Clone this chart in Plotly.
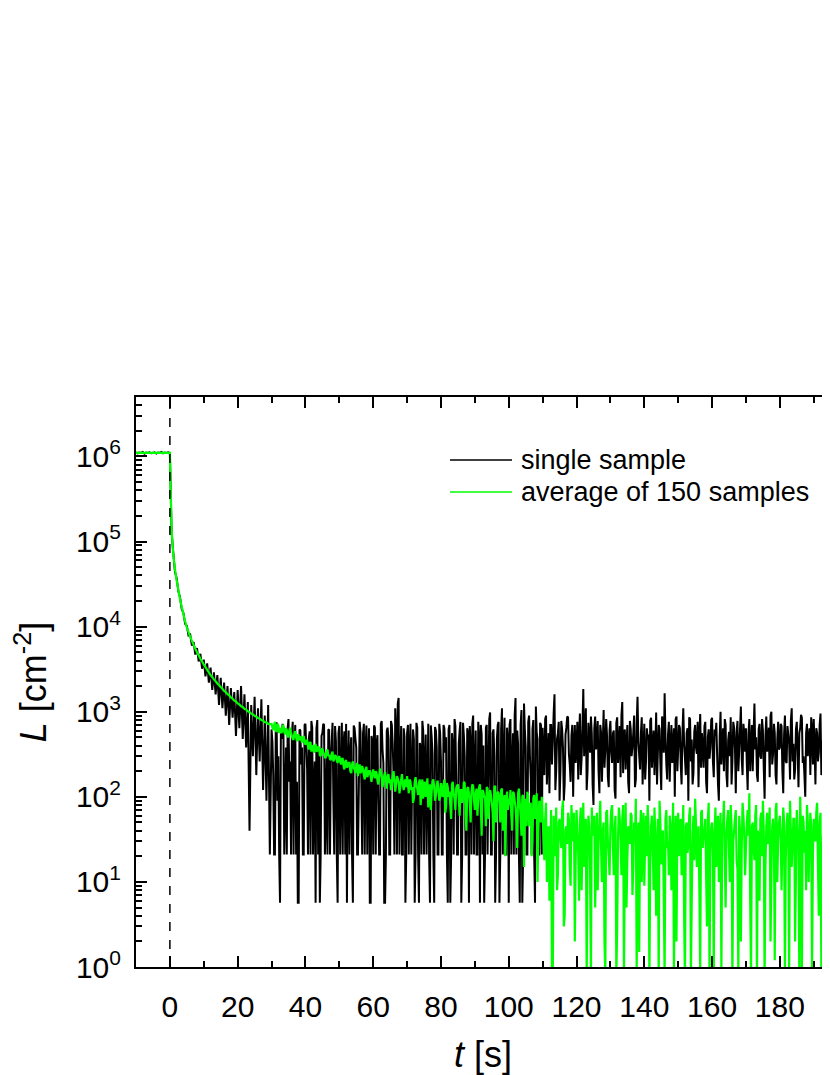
import numpy as np
import plotly.graph_objects as go

# ---------------- data ----------------
# early part: samples every 0.5 s from t = -10 s to 29.5 s
# late part: samples every 0.25 s from t = 30 s (values "a" at whole/half seconds, "b" in between)

# single sample, t = -10 ... -0.5
black_pre = [1.12e6, 1.09e6, 1.11e6, 1.10e6, 1.13e6, 1.08e6, 1.11e6, 1.10e6, 1.12e6, 1.09e6,
             1.10e6, 1.12e6, 1.08e6, 1.11e6, 1.10e6, 1.13e6, 1.09e6, 1.11e6, 1.10e6, 1.12e6]
# single sample, t = 0 ... 29.5
black_decay = [1.1e6, 1.3e5, 7.4e4, 4.4e4, 3.7e4, 2.6e4, 2.2e4, 1.6e4, 1.45e4, 1.08e4,
               1.02e4, 7.9e3, 8.1e3, 6.0e3, 6.6e3, 4.7e3, 5.6e3, 3.9e3, 4.8e3, 3.2e3,
               4.1e3, 2.6e3, 3.7e3, 2.2e3, 3.3e3, 1.8e3, 2.9e3, 1.6e3, 2.7e3, 1.2e3,
               2.5e3, 1.1e3, 2.2e3, 900, 2.0e3, 700, 1.9e3, 850, 1.7e3, 520,
               1.8e3, 640, 2.0e3, 480, 1.6e3, 380, 1.3e3, 40, 1.2e3, 300,
               1.5e3, 180, 1.1e3, 260, 1.4e3, 120, 900, 90, 1.2e3, 21]
# single sample, t = 30 ... 109.5 (a)
black_mid = [620, 180, 21, 750, 300, 5.7, 480, 650, 90, 21, 820, 260, 540, 21, 700, 150, 5.7, 600, 380, 21,
             720, 210, 480, 21, 650, 120, 5.7, 800, 340, 21, 560, 700, 60, 21, 620, 280, 740, 21, 450, 5.7,
             680, 160, 21, 590, 720, 230, 21, 500, 5.7, 640, 380, 21, 760, 140, 560, 21, 690, 300, 5.7, 520,
             21, 650, 420, 90, 21, 780, 250, 5.7, 600, 480, 21, 700, 180, 1100, 21, 1450, 300, 21, 640, 5.7,
             560, 21, 720, 200, 480, 21, 650, 5.7, 380, 780, 21, 540, 120, 21, 690, 320, 5.7, 600, 21, 720,
             260, 21, 640, 500, 5.7, 700, 21, 380, 820, 150, 21, 600, 5.7, 740, 300, 21, 560, 680, 21, 900,
             220, 21, 760, 5.7, 540, 400, 21, 700, 160, 980, 21, 620, 5.7, 480, 760, 21, 1100, 300, 21, 650,
             5.7, 820, 240, 21, 1450, 600, 21, 700, 5.7, 1250, 380, 21, 900, 160, 620, 21, 1150, 480, 21, 700]
# single sample, t = 30.25 ... 109.75 (b)
black_mid_b = [450, 21, 680, 90, 21, 560, 720, 21, 380, 640, 150, 21, 760, 430, 21, 5.7, 620, 240, 21, 700,
               380, 21, 590, 780, 21, 260, 640, 21, 5.7, 520, 720, 21, 330, 610, 21, 460, 90, 680, 21, 560,
               21, 740, 420, 21, 5.7, 600, 310, 21, 690, 480, 21, 120, 580, 21, 720, 360, 21, 640, 5.7, 450,
               690, 21, 530, 21, 720, 360, 5.7, 21, 650, 21, 780, 420, 21, 590, 1250, 21, 680, 21, 500, 21,
               700, 380, 21, 620, 5.7, 740, 21, 430, 21, 600, 260, 21, 720, 5.7, 510, 21, 660, 380, 21, 560,
               21, 700, 330, 21, 620, 5.7, 560, 21, 680, 21, 420, 760, 21, 530, 21, 640, 5.7, 410, 720, 21,
               600, 21, 480, 700, 21, 5.7, 650, 21, 820, 21, 560, 300, 21, 700, 5.7, 620, 21, 850, 21, 480,
               700, 21, 560, 900, 21, 420, 5.7, 1050, 21, 620, 21, 760, 300, 21, 800, 5.7, 560, 21, 740, 21]
# single sample, t = 110 ... 199 (a)
black_tail = [650, 180, 900, 320, 110, 700, 450, 1600, 200, 560, 90, 780, 380, 140, 650, 860, 240, 520, 100, 700,
              400, 160, 950, 280, 1850, 620, 120, 740, 330, 560, 80, 880, 460, 200, 700, 150, 1050, 360, 520, 130,
              780, 250, 600, 95, 860, 420, 170, 1300, 540, 210, 700, 110, 620, 380, 900, 160, 1500, 300, 560, 140,
              720, 260, 480, 90, 850, 400, 180, 980, 330, 620, 120, 760, 1650, 240, 540, 150, 700, 420, 100, 880,
              360, 640, 140, 1100, 280, 560, 90, 820, 470, 190, 700, 320, 130, 940, 560, 220, 760, 110, 620, 380,
              850, 170, 520, 300, 90, 1000, 440, 200, 700, 130, 580, 860, 260, 650, 110, 780, 350, 1150, 180, 560,
              640, 120, 820, 390, 200, 1250, 500, 150, 720, 280, 600, 95, 880, 430, 170, 1000, 320, 560, 140, 760,
              380, 680, 110, 900, 250, 540, 160, 1100, 420, 210, 760, 130, 640, 850, 300, 100, 720, 480, 180, 600,
              820, 140, 560, 330, 950, 210, 680, 100, 760, 420, 170, 880, 300, 540, 130, 700, 1650, 260, 620]
# single sample, t = 110.25 ... 199.25 (b)
black_tail_b = [300, 820, 140, 560, 700, 240, 950, 120, 480, 760, 200, 620, 90, 540, 880, 320, 150, 700, 420, 250,
                760, 520, 180, 680, 300, 1100, 200, 500, 880, 140, 640, 360, 780, 110, 560, 420, 220, 820, 170, 600,
                340, 560, 120, 740, 250, 680, 900, 190, 620, 400, 150, 780, 300, 560, 130, 720, 440, 210, 860, 320,
                160, 640, 540, 780, 220, 600, 350, 140, 700, 240, 880, 330, 520, 160, 760, 400, 250, 640, 820, 200,
                700, 240, 560, 420, 180, 640, 860, 260, 140, 580, 380, 760, 500, 220, 380, 680, 150, 500, 280, 800,
                260, 620, 740, 140, 520, 240, 640, 820, 180, 460, 300, 140, 760, 380, 580, 200, 620, 280, 720, 340,
                240, 560, 200, 700, 560, 360, 180, 620, 300, 820, 220, 520, 340, 650, 900, 240, 720, 180, 480, 360,
                720, 200, 540, 260, 680, 420, 780, 260, 160, 620, 340, 560, 920, 250, 180, 560, 300, 640, 860, 240,
                380, 640, 260, 700, 180, 520, 340, 780, 220, 600, 360, 240, 680, 160, 520, 1100, 420, 200, 780]

# average of 150 samples, t = -10 ... -0.5
green_pre = [1.10e6, 1.11e6, 1.10e6, 1.10e6, 1.11e6, 1.10e6, 1.10e6, 1.11e6, 1.10e6, 1.10e6,
             1.11e6, 1.10e6, 1.10e6, 1.11e6, 1.10e6, 1.10e6, 1.11e6, 1.10e6, 1.10e6, 1.10e6]
# average, t = 0 ... 29.5
green_decay = [1.1e6, 1.4e5, 7.0e4, 4.7e4, 3.5e4, 2.7e4, 2.1e4, 1.7e4, 1.4e4, 1.15e4,
               9.8e3, 8.6e3, 7.6e3, 6.8e3, 6.1e3, 5.5e3, 5.0e3, 4.6e3, 4.2e3, 3.9e3,
               3.6e3, 3.35e3, 3.1e3, 2.9e3, 2.7e3, 2.55e3, 2.4e3, 2.28e3, 2.15e3, 2.05e3,
               1.95e3, 1.86e3, 1.76e3, 1.70e3, 1.61e3, 1.56e3, 1.47e3, 1.43e3, 1.35e3, 1.32e3,
               1.25e3, 1.22e3, 1.16e3, 1.14e3, 1.08e3, 1.06e3, 1.01e3, 990, 950, 930,
               895, 875, 845, 830, 800, 785, 755, 750, 720, 715]
# average, t = 30 ... 109.5 (a)
green_mid = [720, 610, 760, 580, 690, 640, 560, 700, 540, 610, 500, 650, 520, 470, 590, 450, 530, 490, 430, 520,
             410, 470, 360, 440, 390, 330, 420, 350, 380, 300, 370, 320, 290, 360, 310, 270, 340, 280, 300, 250,
             300, 240, 280, 210, 270, 230, 250, 190, 260, 210, 230, 175, 240, 200, 210, 160, 225, 185, 200, 150,
             210, 165, 190, 140, 215, 170, 150, 195, 125, 185, 160, 140, 200, 115, 175, 150, 130, 185, 120, 160,
             175, 110, 150, 130, 95, 170, 125, 145, 80, 160, 135, 100, 165, 120, 70, 150, 130, 105, 155, 90,
             145, 100, 160, 75, 130, 115, 55, 150, 95, 125, 140, 60, 120, 100, 145, 40, 130, 85, 115, 135,
             70, 125, 95, 140, 35, 115, 100, 130, 55, 120, 85, 30, 135, 90, 110, 50, 125, 70, 20, 115,
             95, 120, 40, 110, 75, 25, 125, 60, 100, 15, 95, 115, 45, 85, 30, 105, 70, 10, 90, 50]
# average, t = 30.25 ... 109.75 (b)
green_mid_b = [650, 700, 600, 720, 560, 620, 680, 580, 640, 520, 600, 560, 480, 560, 500, 540, 460, 510, 480, 450,
               450, 390, 430, 340, 400, 370, 340, 390, 310, 360, 330, 290, 340, 300, 280, 320, 260, 310, 270, 290,
               260, 280, 230, 260, 220, 250, 200, 240, 220, 190, 250, 210, 190, 230, 180, 210, 170, 200, 175, 190,
               180, 200, 155, 175, 190, 130, 180, 160, 170, 145, 120, 175, 155, 140, 165, 110, 160, 140, 150, 130,
               140, 160, 120, 85, 150, 135, 105, 160, 120, 95, 150, 130, 75, 140, 115, 160, 90, 135, 120, 100,
               120, 135, 65, 145, 100, 80, 140, 110, 70, 135, 95, 120, 85, 150, 60, 125, 110, 50, 140, 90,
               110, 60, 130, 80, 120, 100, 45, 125, 90, 105, 65, 130, 50, 115, 85, 120, 40, 105, 90, 70,
               80, 60, 115, 90, 50, 110, 85, 35, 105, 70, 45, 100, 80, 20, 95, 55, 110, 40, 75, 100]
# average, t = 110 ... 199 (a)
green_tail = [60, 18, 85, 35, 6, 70, 0.8, 40, 75, 12, 55, 25, 90, 4, 45, 65, 15, 80, 30, 2,
              70, 22, 50, 8, 85, 35, 0.7, 60, 14, 75, 40, 5, 65, 28, 90, 10, 50, 0.8, 70, 20,
              45, 80, 12, 60, 3, 75, 30, 55, 0.8, 85, 18, 40, 65, 7, 50, 95, 22, 1.5, 70, 35,
              9, 60, 80, 0.7, 45, 25, 75, 4, 55, 90, 16, 40, 0.8, 70, 30, 60, 8, 85, 20, 2,
              65, 40, 12, 80, 0.7, 50, 28, 75, 6, 60, 95, 15, 45, 0.9, 70, 35, 55, 3, 85, 20,
              50, 0.8, 75, 30, 10, 65, 45, 90, 5, 55, 22, 80, 0.7, 40, 70, 14, 60, 2, 85, 35,
              25, 70, 110, 0.8, 50, 18, 80, 40, 6, 65, 90, 0.7, 45, 28, 75, 12, 55, 1.2, 85, 30,
              60, 8, 75, 0.8, 45, 35, 90, 15, 55, 2, 70, 25, 100, 0.7, 50, 40, 80, 10, 65, 0.9,
              55, 30, 85, 4, 65, 20, 95, 0.8, 45, 75, 14, 60, 0.7, 80, 35, 50, 6, 70, 25]
# average, t = 110.25 ... 199.25 (b)
green_tail_b = [30, 55, 10, 45, 25, 0.8, 60, 20, 8, 50, 35, 70, 3, 40, 28, 55, 9, 45, 65, 18,
                40, 6, 75, 30, 15, 55, 22, 45, 0.7, 35, 60, 18, 8, 50, 25, 40, 2, 65, 30, 12,
                70, 25, 40, 0.8, 35, 55, 12, 80, 20, 5, 45, 28, 60, 15, 30, 0.9, 50, 40, 10, 65,
                30, 20, 45, 15, 60, 8, 35, 22, 0.7, 50, 38, 6, 55, 25, 12, 45, 30, 0.8, 60, 40,
                20, 55, 30, 4, 45, 22, 60, 0.8, 35, 18, 50, 30, 8, 65, 25, 40, 12, 55, 0.7, 45,
                25, 40, 15, 60, 28, 0.9, 50, 20, 35, 70, 10, 45, 30, 55, 18, 0.8, 40, 25, 60, 12,
                50, 35, 6, 45, 25, 60, 0.7, 30, 55, 20, 40, 15, 65, 30, 2, 45, 35, 70, 10, 50,
                35, 25, 50, 18, 65, 0.8, 40, 28, 55, 12, 45, 0.7, 35, 60, 22, 8, 50, 30, 45, 20,
                40, 65, 15, 50, 0.8, 35, 25, 60, 10, 45, 30, 0.9, 55, 20, 40, 70, 12, 45, 30]

x_ticks = [0, 20, 40, 60, 80, 100, 120, 140, 160, 180]
y_tick_vals = [1, 10, 100, 1000, 10000, 100000, 1000000]
y_tick_text = ["10<sup>0</sup>", "10<sup>1</sup>", "10<sup>2</sup>", "10<sup>3</sup>",
               "10<sup>4</sup>", "10<sup>5</sup>", "10<sup>6</sup>"]
legend_labels = ["single sample", "average of 150 samples"]

# ---------------- build ----------------
def interleave(a, b):
    return [v for pair in zip(a, b) for v in pair]

black_early = black_pre + black_decay
green_early = green_pre + green_decay
black_late = interleave(black_mid + black_tail, black_mid_b + black_tail_b)
green_late = interleave(green_mid + green_tail, green_mid_b + green_tail_b)

t_early = -10.0 + 0.5 * np.arange(len(black_early))
t_late_b = 30.0 + 0.25 * np.arange(len(black_late))
t_late_g = 30.0 + 0.25 * np.arange(len(green_late))

t_black = np.concatenate([t_early, t_late_b])
t_green = np.concatenate([t_early, t_late_g])
black = black_early + black_late
green = green_early + green_late

FONT = "Arial, Liberation Sans, sans-serif"

fig = go.Figure()
fig.add_trace(go.Scatter(x=t_black, y=black, mode="lines",
                         line=dict(color="black", width=2.0, simplify=False),
                         name=legend_labels[0], showlegend=False))
fig.add_trace(go.Scatter(x=t_green, y=green, mode="lines",
                         line=dict(color="#00ff00", width=2.2, simplify=False),
                         name=legend_labels[1], showlegend=False))

# dashed line at t = 0
fig.add_shape(type="line", xref="x", yref="paper", x0=0, x1=0, y0=0, y1=1,
              line=dict(color="black", width=1.5, dash="dash"), layer="above")

# manual legend (positions in screen pixels converted to paper coords)
L, W = 136, 694
T, H = 397, 570
def px(xp):
    return (xp - L) / W
def py(yp):
    return (T + H - yp) / H

for lab, col, yy in [(legend_labels[0], "black", 460), (legend_labels[1], "#00ff00", 492)]:
    fig.add_shape(type="line", xref="paper", yref="paper", x0=px(450), x1=px(512),
                  y0=py(yy), y1=py(yy), line=dict(color=col, width=1.5))
    fig.add_annotation(xref="paper", yref="paper", x=px(519), y=py(yy), text=lab,
                       showarrow=False, xanchor="left", yanchor="middle",
                       font=dict(family=FONT, size=27, color="black"))

# cut-off "200" tick label at right edge
fig.add_annotation(xref="paper", yref="paper", x=px(822), y=0, yshift=-12, text="200",
                   showarrow=False, xanchor="left", yanchor="top",
                   font=dict(family=FONT, size=30, color="black"))

# page body has an 8 px margin, so the figure is offset by 8 px
FIG_W, FIG_H = 822, 1067
fig.update_layout(
    width=FIG_W, height=FIG_H,
    margin=dict(l=L - 8, r=0, t=T - 8, b=FIG_H - (T - 8) - H, pad=0),
    paper_bgcolor="white", plot_bgcolor="white",
    font=dict(family=FONT, color="black"),
    showlegend=False,
    xaxis=dict(
        range=[-10, 194.8], tickmode="array", tickvals=x_ticks,
        ticks="inside", ticklen=11, tickwidth=2, tickcolor="black",
        showline=True, linewidth=2, linecolor="black", mirror="ticks",
        showgrid=False, zeroline=False,
        tickfont=dict(family=FONT, size=30, color="black"),
        ticklabelstandoff=12,
        minor=dict(dtick=10, tick0=0, ticks="inside", ticklen=6, tickwidth=2, tickcolor="black",
                   showgrid=False),
        title=dict(text="<i>t</i> [s]", font=dict(family=FONT, size=36, color="black"), standoff=26),
    ),
    yaxis=dict(
        type="log", range=[0, 6.699],
        tickmode="array", tickvals=y_tick_vals, ticktext=y_tick_text,
        ticks="inside", ticklen=11, tickwidth=2, tickcolor="black",
        showline=True, linewidth=2, linecolor="black", mirror=False,
        showgrid=False, zeroline=False,
        tickfont=dict(family=FONT, size=30, color="black"),
        ticklabelstandoff=7,
        minor=dict(tickmode="array",
                   tickvals=[m * 10 ** k for k in range(7) for m in range(2, 10)],
                   ticks="inside", ticklen=6, tickwidth=2, tickcolor="black", showgrid=False),
        title=dict(text="<i>L</i> [cm<sup>-2</sup>]", font=dict(family=FONT, size=36, color="black"),
                   standoff=18),
    ),
)

# hide page scrollbars so the full 830 px width shows the plot
fig.write_html(
    "out.html",
    post_script="document.documentElement.style.overflow='hidden';document.body.style.overflow='hidden';",
)
